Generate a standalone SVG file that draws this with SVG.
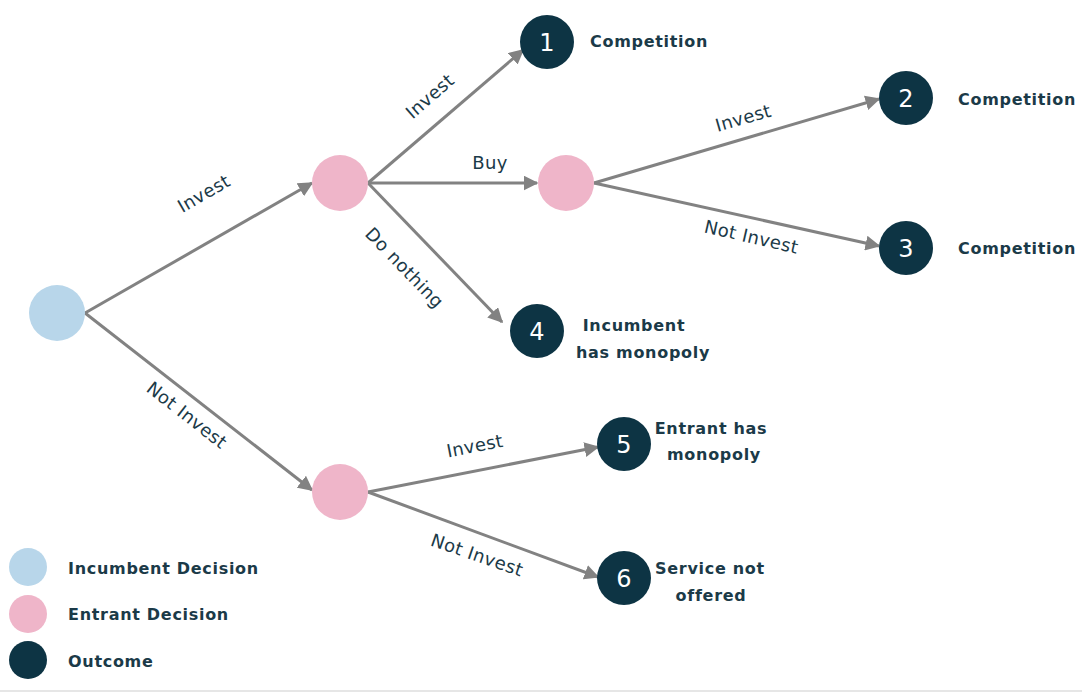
<svg xmlns="http://www.w3.org/2000/svg" width="1082" height="700" viewBox="0 0 1082 700">
<style>
.inc{fill:#b8d6ea}
.ent{fill:#efb5c9}
.out{fill:#0d3444}
.num{font-family:"DejaVu Sans","Liberation Sans",sans-serif;font-size:24px;fill:#ffffff;text-anchor:middle}
.lbl{font-family:"DejaVu Sans","Liberation Sans",sans-serif;font-size:16px;font-weight:bold;letter-spacing:0.7px;fill:#1b3a48}
.edge{stroke:#828282;stroke-width:3;fill:none;marker-end:url(#ah)}
.el{font-family:"DejaVu Sans","Liberation Sans",sans-serif;font-size:18px;letter-spacing:0.4px;fill:#1b3a48;text-anchor:middle}
</style>
<defs>
<marker id="ah" viewBox="0 0 10 10" refX="9" refY="5" markerWidth="5" markerHeight="5" orient="auto" markerUnits="strokeWidth">
<path d="M0,0 L10,5 L0,10 z" fill="#828282"/>
</marker>
</defs>
<rect width="1082" height="700" fill="#ffffff"/>
<line x1="0" y1="691" x2="1082" y2="691" stroke="#e6e6e6" stroke-width="2"/>
<g id="connectors">
<line class="edge" x1="85" y1="313" x2="312" y2="183"/>
<line class="edge" x1="85" y1="313" x2="312" y2="490"/>
<line class="edge" x1="368" y1="183" x2="523" y2="50"/>
<line class="edge" x1="368" y1="183" x2="537" y2="183"/>
<line class="edge" x1="368" y1="183" x2="502" y2="322"/>
<line class="edge" x1="594" y1="183" x2="879" y2="99"/>
<line class="edge" x1="594" y1="183" x2="879" y2="246"/>
<line class="edge" x1="368" y1="492" x2="598" y2="447"/>
<line class="edge" x1="368" y1="492" x2="598" y2="577"/>
<text class="el" transform="translate(207,199) rotate(-30)">Invest</text>
<text class="el" transform="translate(183,420) rotate(38)">Not Invest</text>
<text class="el" transform="translate(434,101) rotate(-41)">Invest</text>
<text class="el" x="490" y="169">Buy</text>
<text class="el" transform="translate(400,272) rotate(46)">Do nothing</text>
<text class="el" transform="translate(745,124) rotate(-16)">Invest</text>
<text class="el" transform="translate(750,243) rotate(13)">Not Invest</text>
<text class="el" transform="translate(476,452) rotate(-11)">Invest</text>
<text class="el" transform="translate(475,561) rotate(19)">Not Invest</text>
</g>
<g id="incumbent"><circle class="inc" cx="57" cy="313" r="28"/></g>
<g id="entrantA"><circle class="ent" cx="340" cy="183" r="28"/></g>
<g id="entrantB"><circle class="ent" cx="566" cy="183" r="28"/></g>
<g id="entrantC"><circle class="ent" cx="340" cy="492" r="28"/></g>
<g id="outcome1"><circle class="out" cx="547" cy="42" r="27"/><text class="num" x="547" y="51">1</text><text class="lbl" x="590" y="47">Competition</text></g>
<g id="outcome2"><circle class="out" cx="906" cy="98" r="27"/><text class="num" x="906" y="107">2</text><text class="lbl" x="958" y="105">Competition</text></g>
<g id="outcome3"><circle class="out" cx="906" cy="248" r="27"/><text class="num" x="906" y="257">3</text><text class="lbl" x="958" y="254">Competition</text></g>
<g id="outcome4"><circle class="out" cx="537" cy="331" r="27"/><text class="num" x="537" y="340">4</text><text class="lbl" x="634" y="331" text-anchor="middle">Incumbent</text><text class="lbl" x="643" y="358" text-anchor="middle">has monopoly</text></g>
<g id="outcome5"><circle class="out" cx="624" cy="444" r="27"/><text class="num" x="624" y="453">5</text><text class="lbl" x="711" y="434" text-anchor="middle">Entrant has</text><text class="lbl" x="714" y="460" text-anchor="middle">monopoly</text></g>
<g id="outcome6"><circle class="out" cx="624" cy="578" r="27"/><text class="num" x="624" y="587">6</text><text class="lbl" x="710" y="574" text-anchor="middle">Service not</text><text class="lbl" x="711" y="601" text-anchor="middle">offered</text></g>
<g id="legend">
<circle class="inc" cx="28" cy="567" r="19"/>
<text class="lbl" x="68" y="574">Incumbent Decision</text>
<circle class="ent" cx="28" cy="614" r="19"/>
<text class="lbl" x="68" y="620">Entrant Decision</text>
<circle class="out" cx="28" cy="660" r="19"/>
<text class="lbl" x="68" y="667">Outcome</text>
</g>
</svg>
